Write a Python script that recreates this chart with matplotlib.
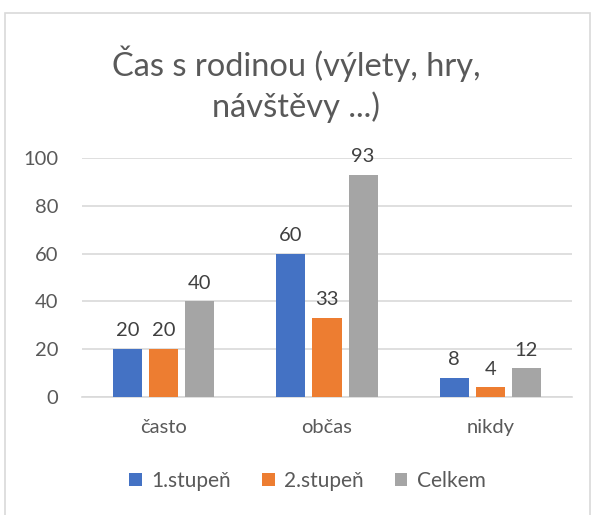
import matplotlib
matplotlib.use("Agg")
import matplotlib.pyplot as plt
import numpy as np
from matplotlib.patches import Rectangle

categories = ["často", "občas", "nikdy"]
series_names = ["1.stupeň", "2.stupeň", "Celkem"]
stupen1 = [20, 60, 8]
stupen2 = [20, 33, 4]
celkem = [40, 93, 12]
yticks = [0, 20, 40, 60, 80, 100]

colors = ["#4472C4", "#ED7D31", "#A5A5A5"]
text_color = "#595959"
plt.rcParams["font.family"] = ["Lato", "DejaVu Sans"]

fig = plt.figure(figsize=(5.95, 5.15), dpi=100)
# plot area: x 82..572 px, y 158..397 px
ax = fig.add_axes([82 / 595, 1 - 397 / 515, 490 / 595, 239 / 515])

x = np.arange(len(categories))
width = 0.178
step = 0.221
for i, (vals, name) in enumerate(zip([stupen1, stupen2, celkem], series_names)):
    bars = ax.bar(x + (i - 1) * step, vals, width, color=colors[i], label=name, zorder=3)
    for b, v in zip(bars, vals):
        ax.annotate(str(v), (b.get_x() + b.get_width() / 2, b.get_height()),
                    xytext=(0, 7), textcoords="offset points", ha="center", va="bottom",
                    fontsize=14.5, color="#404040")

ax.set_xlim(-0.5, 2.5)
ax.set_ylim(0, 100)
ax.set_yticks(yticks)
ax.set_xticks(x)
ax.set_xticklabels(categories)
ax.yaxis.grid(True, color="#D9D9D9", linewidth=1.2, zorder=0)
ax.tick_params(axis="both", length=0, labelsize=14.5, labelcolor=text_color)
ax.tick_params(axis="y", pad=17)
ax.tick_params(axis="x", pad=16)
for s in ["top", "right", "left"]:
    ax.spines[s].set_visible(False)
ax.spines["bottom"].set_color("#D9D9D9")
ax.spines["bottom"].set_linewidth(1.2)

fig.text(0.4975, 0.837, "Čas s rodinou (výlety, hry,\nnávštěvy ...)", ha="center", va="center",
         fontsize=23.5, color=text_color, linespacing=1.38)

leg = fig.legend(loc="center", bbox_to_anchor=(0.517, 0.066), ncol=3, frameon=False,
                 fontsize=15, handlelength=0.6, handleheight=0.6, handletextpad=0.45,
                 columnspacing=1.5)
for t in leg.get_texts():
    t.set_color(text_color)

fig.patches.append(Rectangle((5 / 595, -0.01), 585 / 595, 1 - 13 / 515 + 0.01,
                             transform=fig.transFigure, fill=False,
                             edgecolor="#D9D9D9", linewidth=1.2))

fig.savefig("out.png", dpi=100)
